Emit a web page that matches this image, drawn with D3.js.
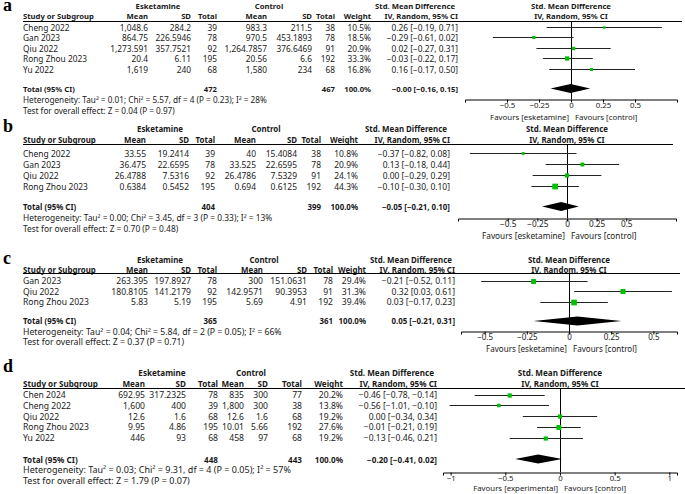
<!DOCTYPE html>
<html><head><meta charset="utf-8">
<script src="https://cdn.jsdelivr.net/npm/d3@7"></script>
<style>body{margin:0;background:#fff}svg{display:block}</style>
</head><body>
<svg id="chart" width="685" height="494"></svg>
<script>
// ---------- Panel a ----------
const studiesA = ["Cheng 2022", "Gan 2023", "Qiu 2022", "Rong Zhou 2023", "Yu 2022"];
const eskMeanA = [1048.6, 864.75, 1273.591, 20.4, 1619];
const eskSDA = [284.2, 226.5946, 357.7521, 6.11, 240];
const eskNA = [39, 78, 92, 195, 68];
const ctlMeanA = [983.3, 970.5, 1264.7857, 20.56, 1580];
const ctlSDA = [211.5, 453.1893, 376.6469, 6.6, 234];
const ctlNA = [38, 78, 91, 192, 68];
const weightA = [10.5, 18.5, 20.9, 33.3, 16.8];
const smdA = [0.26, -0.29, 0.02, -0.03, 0.16];
const loA = [-0.19, -0.61, -0.27, -0.22, -0.17];
const hiA = [0.71, 0.02, 0.31, 0.17, 0.50];
const totalA = [-0.004, -0.16, 0.15];
const totalNA = [472, 467];
const hetA = [0.01, 5.57, 4, 0.23, 28];   // tau2, chi2, df, P, I2
const testA = [0.04, 0.97];               // Z, P
const ticksA = [-0.5, -0.25, 0, 0.25, 0.5];
const favoursA = ["Favours [esketamine]", "Favours [control]"];

// ---------- Panel b ----------
const studiesB = ["Cheng 2022", "Gan 2023", "Qiu 2022", "Rong Zhou 2023"];
const eskMeanB = [33.55, 36.475, 26.4788, 0.6384];
const eskSDB = [19.2414, 22.6595, 7.5316, 0.5452];
const eskNB = [39, 78, 92, 195];
const ctlMeanB = [40, 33.525, 26.4786, 0.694];
const ctlSDB = [15.4084, 22.6595, 7.5329, 0.6125];
const ctlNB = [38, 78, 91, 192];
const weightB = [10.8, 20.9, 24.1, 44.3];
const smdB = [-0.37, 0.13, 0.00, -0.10];
const loB = [-0.82, -0.18, -0.29, -0.30];
const hiB = [0.08, 0.44, 0.29, 0.10];
const totalB = [-0.05, -0.21, 0.10];
const totalNB = [404, 399];
const hetB = [0.00, 3.45, 3, 0.33, 13];
const testB = [0.70, 0.48];
const ticksB = [-0.5, -0.25, 0, 0.25, 0.5];
const favoursB = ["Favours [esketamine]", "Favours [control]"];

// ---------- Panel c ----------
const studiesC = ["Gan 2023", "Qiu 2022", "Rong Zhou 2023"];
const eskMeanC = [263.395, 180.8105, 5.83];
const eskSDC = [197.8927, 141.2179, 5.19];
const eskNC = [78, 92, 195];
const ctlMeanC = [300, 142.9571, 5.69];
const ctlSDC = [151.0631, 90.3953, 4.91];
const ctlNC = [78, 91, 192];
const weightC = [29.4, 31.3, 39.4];
const smdC = [-0.21, 0.32, 0.03];
const loC = [-0.52, 0.03, -0.17];
const hiC = [0.11, 0.61, 0.23];
const totalC = [0.05, -0.21, 0.31];
const totalNC = [365, 361];
const hetC = [0.04, 5.84, 2, 0.05, 66];
const testC = [0.37, 0.71];
const ticksC = [-0.5, -0.25, 0, 0.25, 0.5];
const favoursC = ["Favours [esketamine]", "Favours [control]"];

// ---------- Panel d ----------
const studiesD = ["Chen 2024", "Cheng 2022", "Qiu 2022", "Rong Zhou 2023", "Yu 2022"];
const eskMeanD = [692.95, 1600, 12.6, 9.95, 446];
const eskSDD = [317.2325, 400, 1.6, 4.86, 93];
const eskND = [78, 39, 68, 195, 68];
const ctlMeanD = [835, 1800, 12.6, 10.01, 458];
const ctlSDD = [300, 300, 1.6, 5.66, 97];
const ctlND = [77, 38, 68, 192, 68];
const weightD = [20.2, 13.8, 19.2, 27.6, 19.2];
const smdD = [-0.46, -0.56, 0.00, -0.01, -0.13];
const loD = [-0.78, -1.01, -0.34, -0.21, -0.46];
const hiD = [-0.14, -0.10, 0.34, 0.19, 0.21];
const totalD = [-0.20, -0.41, 0.02];
const totalND = [448, 443];
const hetD = [0.03, 9.31, 4, 0.05, 57];
const testD = [1.79, 0.07];
const ticksD = [-1, -0.5, 0, 0.5, 1];
const favoursD = ["Favours [experimental]", "Favours [control]"];

// ---------- layout ----------
const FONT = "'Noto Sans', 'DejaVu Sans', sans-serif";
const INK = "#1a1a1a";
const GREEN = "#00c000";
const svg = d3.select("#chart");

const panels = [
  { label: "a", studies: studiesA, eM: eskMeanA, eS: eskSDA, eN: eskNA, cM: ctlMeanA, cS: ctlSDA, cN: ctlNA,
    w: weightA, smd: smdA, lo: loA, hi: hiA, tot: totalA, totN: totalNA, het: hetA, test: testA, ticks: ticksA, fav: favoursA,
    L: { labelY: 11, h1: 6, h2: 16, rule: 21, ruleEnd: 682, row0: 27.5, step: 10.4, tot: 88.5, het: 99, test: 110,
         axisY: 99, fav: 116.5, wRong: 64, wStudy: 71, wHet: 244, wFav: 79,
         xEM: 148, xES: 191, xEN: 217, xCM: 267, xCS: 312, xCN: 335, xW: 371, xCI: 458, cE: 158, cC: 269,
         dom: [-0.828, 0.828], rng: [465, 677], k: 0.75 } },
  { label: "b", studies: studiesB, eM: eskMeanB, eS: eskSDB, eN: eskNB, cM: ctlMeanB, cS: ctlSDB, cN: ctlNB,
    w: weightB, smd: smdB, lo: loB, hi: hiB, tot: totalB, totN: totalNB, het: hetB, test: testB, ticks: ticksB, fav: favoursB,
    L: { labelY: 132, h1: 129, h2: 140, rule: 144.5, ruleEnd: 673, row0: 153, step: 11, tot: 206.5, het: 217, test: 228,
         axisY: 218, fav: 235, wRong: 65, wStudy: 73, wHet: 250, wFav: 83,
         xEM: 146, xES: 189, xEN: 215, xCM: 256, xCS: 297, xCN: 321, xW: 358, xCI: 450, cE: 160, cC: 266,
         dom: [-0.92, 0.92], rng: [458, 676], k: 0.86 } },
  { label: "c", studies: studiesC, eM: eskMeanC, eS: eskSDC, eN: eskNC, cM: ctlMeanC, cS: ctlSDC, cN: ctlNC,
    w: weightC, smd: smdC, lo: loC, hi: hiC, tot: totalC, totN: totalNC, het: hetC, test: testC, ticks: ticksC, fav: favoursC,
    L: { labelY: 264, h1: 260, h2: 269.5, rule: 273.5, ruleEnd: 680, row0: 281, step: 10.5, tot: 321, het: 331.5, test: 341.5,
         axisY: 331.5, fav: 348, wRong: 66, wStudy: 73, wHet: 259, wFav: 81,
         xEM: 148, xES: 191, xEN: 217, xCM: 263, xCS: 307, xCN: 333, xW: 366, xCI: 455, cE: 160, cC: 264,
         dom: [-0.64, 0.64], rng: [461, 677], k: 0.9 } },
  { label: "d", studies: studiesD, eM: eskMeanD, eS: eskSDD, eN: eskND, cM: ctlMeanD, cS: ctlSDD, cN: ctlND,
    w: weightD, smd: smdD, lo: loD, hi: hiD, tot: totalD, totN: totalND, het: hetD, test: testD, ticks: ticksD, fav: favoursD,
    L: { labelY: 372, h1: 372, h2: 383, rule: 388, ruleEnd: 685, row0: 395, step: 10.8, tot: 459, het: 469, test: 480,
         axisY: 472, fav: 487.5, wRong: 66, wStudy: 75, wHet: 268, wFav: 85,
         xEM: 145, xES: 186, xEN: 218, xCM: 244, xCS: 268, xCN: 302, xW: 343, xCI: 437, cE: 162, cC: 251,
         dom: [-1.07, 1.07], rng: [443, 677], k: 0.95 } }
];

const fNum = d3.format(",");
const f2 = d3.format(".2f");
const f1 = d3.format(".1f");
const fTick = d3.format("~g");
const sgn = v => (v < 0 ? "\u2212" + f2(Math.abs(v)) : f2(v));
const ciText = (e, l, h) => `${sgn(e)} [${sgn(l)}, ${sgn(h)}]`;
const hetText = h => `Heterogeneity: Tau\u00B2 = ${f2(h[0])}; Chi\u00B2 = ${f2(h[1])}, df = ${h[2]} (P = ${f2(h[3])}); I\u00B2 = ${h[4]}%`;
const testText = t => `Test for overall effect: Z = ${f2(t[0])} (P = ${f2(t[1])})`;

function fitFont(str, target, bold) {
  const t = svg.append("text").attr("font-family", FONT).attr("font-size", 10)
    .attr("font-weight", bold ? "bold" : "normal").text(str);
  const w = t.node().getComputedTextLength();
  t.remove();
  return 10 * target / w;
}
const crisp = y => Math.round(y - 0.5) + 0.5;

panels.forEach(P => {
  const L = P.L;
  const fsT = fitFont("Rong Zhou 2023", L.wRong, false);
  const fsH = fitFont("Study or Subgroup", L.wStudy, true);
  const fsF = fitFont(hetText(P.het), L.wHet, false);
  const fsA = fitFont(P.fav[0], L.wFav, false);
  const g = svg.append("g").attr("font-family", FONT).attr("fill", INK);
  const txt = (x, y, s, anchor, bold, fs) => g.append("text").attr("x", x).attr("y", y)
      .attr("dominant-baseline", "central").attr("text-anchor", anchor || "start")
      .attr("font-size", fs || (bold ? fsH : fsT))
      .attr("font-weight", bold ? "bold" : "normal").text(s);
  const x = d3.scaleLinear().domain(L.dom).range(L.rng);

  // panel label
  svg.append("text").attr("x", 3).attr("y", L.labelY)
    .attr("font-family", "'Liberation Serif', serif").attr("font-weight", "bold")
    .attr("font-size", 18).attr("fill", "#000").text(P.label);

  // headers
  txt(L.cE, L.h1, "Esketamine", "middle", true);
  txt(L.cC, L.h1, "Control", "middle", true);
  txt(L.xCI - 3, L.h1, "Std. Mean Difference", "end", true);
  txt(x(0), L.h1, "Std. Mean Difference", "middle", true);
  txt(23, L.h2, "Study or Subgroup", "start", true);
  txt(L.xEM, L.h2, "Mean", "end", true);
  txt(L.xES, L.h2, "SD", "end", true);
  txt(L.xEN, L.h2, "Total", "end", true);
  txt(L.xCM, L.h2, "Mean", "end", true);
  txt(L.xCS, L.h2, "SD", "end", true);
  txt(L.xCN, L.h2, "Total", "end", true);
  txt(L.xW, L.h2, "Weight", "end", true);
  txt(L.xCI, L.h2, "IV, Random, 95% CI", "end", true);
  txt(x(0), L.h2, "IV, Random, 95% CI", "middle", true);

  g.append("line").attr("x1", 23).attr("x2", L.ruleEnd)
    .attr("y1", crisp(L.rule)).attr("y2", crisp(L.rule)).attr("stroke", "#000").attr("stroke-width", 1);

  // rows
  P.studies.forEach((s, i) => {
    const y = L.row0 + i * L.step;
    txt(23, y, s);
    txt(L.xEM, y, fNum(P.eM[i]), "end");
    txt(L.xES, y, fNum(P.eS[i]), "end");
    txt(L.xEN, y, P.eN[i], "end");
    txt(L.xCM, y, fNum(P.cM[i]), "end");
    txt(L.xCS, y, fNum(P.cS[i]), "end");
    txt(L.xCN, y, P.cN[i], "end");
    txt(L.xW, y, f1(P.w[i]) + "%", "end");
    txt(L.xCI, y, ciText(P.smd[i], P.lo[i], P.hi[i]), "end");
  });

  // totals
  txt(23, L.tot, "Total (95% CI)", "start", true);
  txt(L.xEN, L.tot, P.totN[0], "end", true);
  txt(L.xCN, L.tot, P.totN[1], "end", true);
  txt(L.xW, L.tot, "100.0%", "end", true);
  txt(L.xCI, L.tot, ciText(P.tot[0], P.tot[1], P.tot[2]), "end", true);
  txt(23, L.het, hetText(P.het), "start", false, fsF);
  txt(23, L.test, testText(P.test), "start", false, fsF);

  // plot: zero line
  g.append("line").attr("x1", crisp(x(0))).attr("x2", crisp(x(0)))
    .attr("y1", L.rule).attr("y2", L.axisY).attr("stroke", "#000");

  // CI lines and squares
  P.studies.forEach((s, i) => {
    const y = crisp(L.row0 + i * L.step);
    g.append("line").attr("x1", x(P.lo[i])).attr("x2", x(P.hi[i]))
      .attr("y1", y).attr("y2", y).attr("stroke", "#222").attr("stroke-width", 1);
    const side = L.k * Math.sqrt(P.w[i]);
    g.append("rect").attr("x", x(P.smd[i]) - side / 2).attr("y", y - side / 2)
      .attr("width", side).attr("height", side).attr("fill", GREEN);
  });

  // diamond
  const dh = 4.5;
  g.append("path").attr("fill", "#000")
    .attr("d", `M${x(P.tot[1])},${L.tot} L${x(P.tot[0])},${L.tot - dh} L${x(P.tot[2])},${L.tot} L${x(P.tot[0])},${L.tot + dh} Z`);

  // axis
  const ax = svg.append("g").attr("transform", `translate(0,${crisp(L.axisY)})`)
    .call(d3.axisBottom(x).tickValues(P.ticks).tickSize(3).tickSizeOuter(3).tickPadding(0)
      .tickFormat(d => fTick(d)));
  ax.select(".domain").attr("stroke", "#000");
  ax.selectAll(".tick line").attr("stroke", "#000");
  ax.selectAll(".tick text").attr("font-family", FONT).attr("font-size", fsA).attr("fill", INK);

  // favours labels
  txt(x(0) - 2, L.fav, P.fav[0], "end", false, fsA);
  txt(x(0) + 4, L.fav, P.fav[1], "start", false, fsA);
});
</script>
</body></html>
